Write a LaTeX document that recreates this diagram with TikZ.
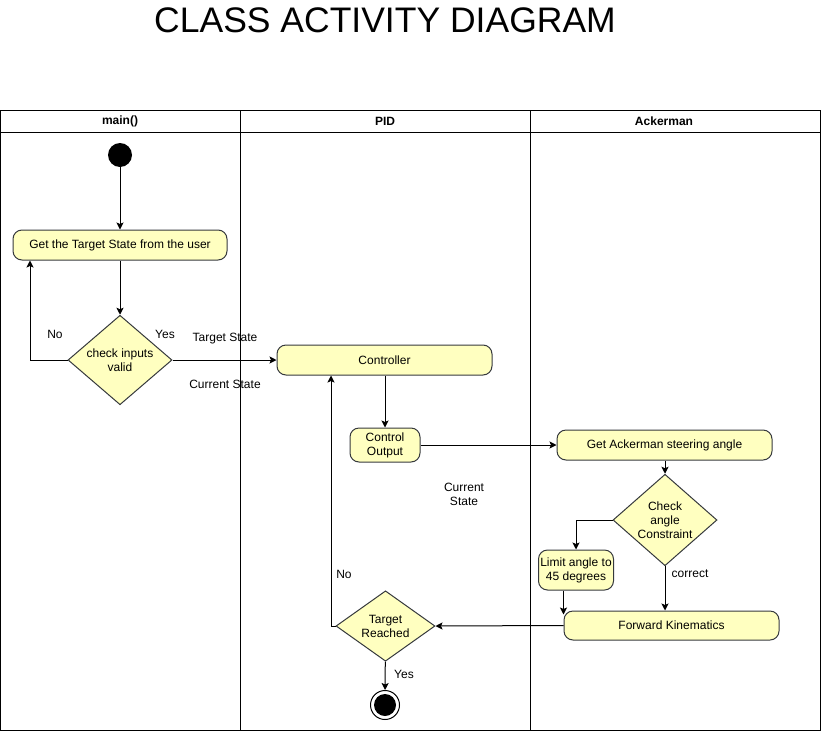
\documentclass[tikz,border=0pt]{standalone}
\usepackage{fontspec}
\setmainfont{Liberation Sans}
\usetikzlibrary{shapes.geometric,arrows.meta}
\definecolor{actfill}{HTML}{FFFFC0}
\definecolor{actline}{HTML}{36393D}
\begin{document}
\begin{tikzpicture}[x=1pt,y=-1pt,
  font=\fontsize{12}{14}\selectfont,
  >={Stealth[length=7pt,width=7pt,inset=1.5pt]},
  act/.style={draw=actline, fill=actfill, rounded corners=9pt, inner sep=0pt, align=center, line width=1pt},
  dec/.style={diamond, draw=actline, fill=actfill, inner sep=0pt, align=center, line width=1pt},
  flow/.style={->, line width=1pt},
  lbl/.style={inner sep=0pt, align=center},
  lane/.style={line width=1pt},
  hdr/.style={inner sep=0pt, font=\fontsize{12}{14}\selectfont\bfseries}]
\useasboundingbox (0,0) rectangle (821,731);

% title
\node[inner sep=0pt] (title) at (385,20) {\fontsize{35.5}{40}\selectfont CLASS ACTIVITY DIAGRAM};

% swimlanes
\draw[lane] (0,110) rectangle (820,730);
\draw[lane] (0,132) -- (820,132);
\draw[lane] (240,110) -- (240,730);
\draw[lane] (530,110) -- (530,730);
\node[hdr] (hmain) at (120,121) {main()};
\node[hdr] (hpid) at (385,121) {PID};
\node[hdr] (hack) at (664,121) {Ackerman};

% nodes
\node[circle, fill=black, minimum size=24pt, inner sep=0pt] (start) at (120,155) {};
\node[act, minimum width=214pt, minimum height=30pt] (get) at (120,245) {Get the Target State from the user};
\node[dec, minimum width=104pt, minimum height=89pt] (chk) at (120,360) {check inputs\\valid};
\node[act, minimum width=215pt, minimum height=30pt] (ctrl) at (384.5,360) {Controller};
\node[act, minimum width=70pt, minimum height=34pt] (cout) at (385,445) {Control\\Output};
\node[act, minimum width=215pt, minimum height=30pt] (ack) at (664.5,445) {Get Ackerman steering angle};
\node[dec, minimum width=104pt, minimum height=76pt] (chka) at (665,520) {Check\\angle\\Constraint};
\node[act, minimum width=75pt, minimum height=40pt] (lim) at (576,570) {Limit angle to\\45 degrees};
\node[act, minimum width=215pt, minimum height=29pt] (fk) at (671.5,625.5) {Forward Kinematics};
\node[dec, minimum width=99pt, minimum height=70pt] (tr) at (385.5,626) {Target\\Reached};
\node[circle, draw=black, line width=1pt, minimum size=29pt, inner sep=0pt,
  path picture={\fill[black] (path picture bounding box.center) circle (11pt);}] (end) at (385,705) {};

\coordinate (noA) at (30,0);
\coordinate (noB) at (331,0);

% connectors
\draw[flow] (start) -- (get);
\draw[flow] (get) -- (chk);
\draw[flow] (chk.west) -| (noA |- get.south);
\draw[flow] (chk.east) -- (ctrl.west);
\draw[flow] (ctrl.south -| cout.north) -- (cout.north);
\draw[flow] (cout.east) -- (ack.west);
\draw[flow] (ack.south -| chka.north) -- (chka.north);
\draw[flow] (chka.west) -| (lim.north);
\draw[flow] (chka.south) -- (chka.south |- fk.north);
\draw[flow] (lim.south -| fk.west) -- ([yshift=-4pt]fk.north west);
\draw[flow] (fk.west) -- (tr.east);
\draw[flow] (tr.west) -- (tr.west -| noB) -- (noB |- ctrl.south);
\draw[flow] (tr) -- (end);

% labels
\node[lbl] (lno1) at (55,334) {No};
\node[lbl] (lyes1) at (165,334) {Yes};
\node[lbl] (lts) at (225,339) {Target State};
\node[lbl] (lcs1) at (225,384) {Current State};
\node[lbl] (lcs2) at (464,494) {Current\\State};
\node[lbl] (lcor) at (690,574) {correct};
\node[lbl] (lno2) at (344,574) {No};
\node[lbl] (lyes2) at (404,674) {Yes};
\end{tikzpicture}
\end{document}
